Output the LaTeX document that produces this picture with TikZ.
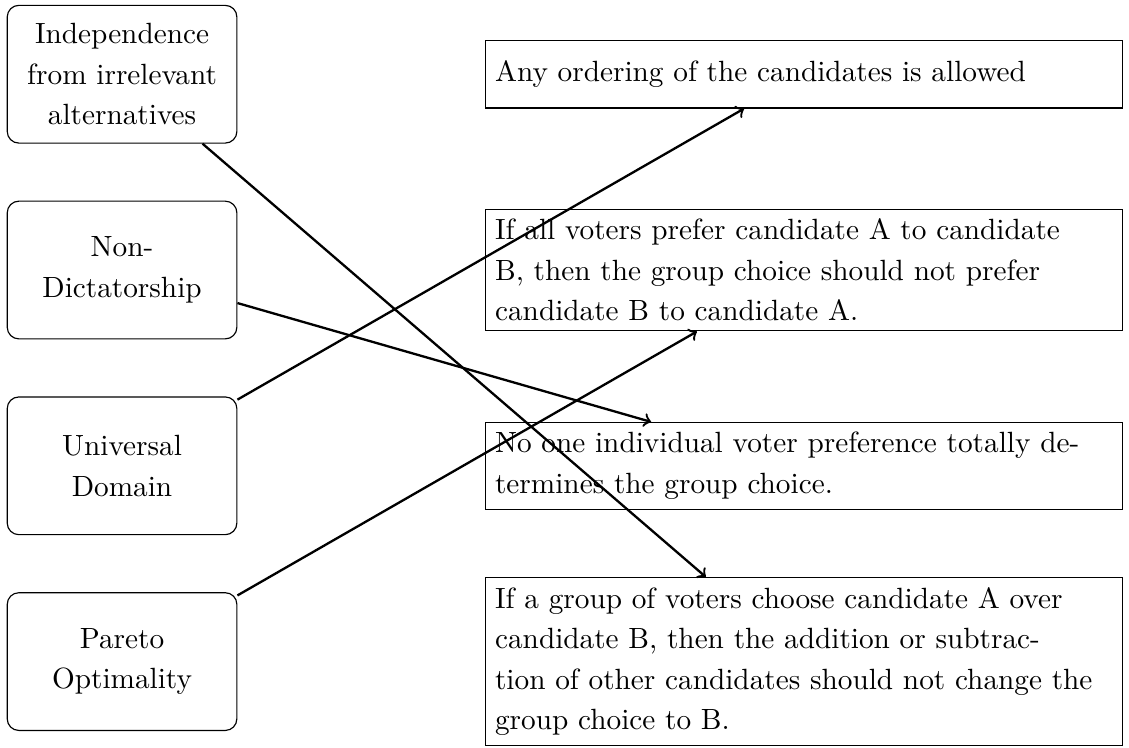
\documentclass[tikz,border=0pt]{standalone}
\usepackage{tikz}
\usetikzlibrary{positioning}

\begin{document}
\begin{tikzpicture}[node distance=0.69cm, every node/.style={font=\fontsize{10.1}{14}\selectfont},
  crit/.style={draw, rounded corners, text width=2.55cm, align=center, minimum height=1.67cm},
  desc/.style={draw, text width=7.49cm, align=left, minimum height=0.82cm}]
\useasboundingbox (-1.48,0.90) rectangle (12.21,-8.16);
\node[crit] (p1) at (0,0) {Independence\\from irrelevant\\alternatives};
\node[crit, below=of p1] (p2) {Non-\\Dictatorship};
\node[crit, below=of p2] (p3) {Universal\\Domain};
\node[crit, below=of p3] (p4) {Pareto\\Optimality};

\node[desc, right=3cm of p1] (d1) {Any ordering of the candidates is allowed};
\node[desc, right=3cm of p2] (d2) {If all voters prefer candidate A to candidate\\B, then the group choice should not prefer\\candidate B to candidate A.};
\node[desc, right=3cm of p3] (d3) {No one individual voter preference totally de-\\termines the group choice.};
\node[desc, right=3cm of p4] (d4) {If a group of voters choose candidate A over\\candidate B, then the addition or subtrac-\\tion of other candidates should not change the\\group choice to B.};

\draw[->, thick] (p1) -- (d4);
\draw[->, thick] (p2) -- (d3);
\draw[->, thick] (p3) -- (d1);
\draw[->, thick] (p4) -- (d2);
\end{tikzpicture}
\end{document}
